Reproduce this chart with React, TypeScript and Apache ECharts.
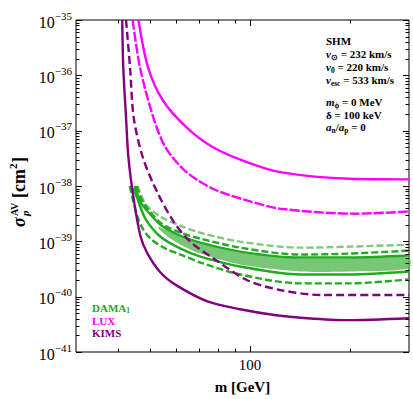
import React, { useEffect, useRef } from "react";
import * as echarts from "echarts";

const SERIF = '"Liberation Serif", "Times New Roman", serif';

// ---- data: [mass (GeV), sigma (cm^2)] ----
const kimsSolid: [number, number][] = [
  [41.3, 1e-35], [41.6, 1.38e-36], [42.4, 1.74e-37], [43.1, 3.31e-38], [44.7, 5.85e-39],
  [46.9, 1.21e-39], [49.2, 6.01e-40], [53.8, 2.74e-40], [60.1, 1.6e-40], [74.4, 8.24e-41],
  [93.3, 5.93e-41], [119.6, 4.62e-41], [148, 4.08e-41], [194.8, 3.76e-41], [300, 4.08e-41],
];
const kimsDashed: [number, number][] = [
  [42.4, 1e-35], [43.6, 1.38e-36], [44.7, 1.74e-37], [47.6, 3.31e-38], [52.6, 7.76e-39],
  [59.0, 2.24e-39], [66.2, 9.77e-40], [77.7, 4.9e-40], [97.7, 2.0e-40], [122.9, 1.32e-40],
  [165.6, 1.07e-40], [300, 1.07e-40],
];
const luxSolid: [number, number][] = [
  [46.2, 1e-35], [49.4, 1.38e-36], [54.8, 3.47e-37], [64.4, 1.15e-37], [77.4, 5.01e-38],
  [97.8, 2.69e-38], [122.9, 1.78e-38], [199, 1.35e-38], [300, 1.32e-38],
];
const luxDashed: [number, number][] = [
  [44.4, 1e-35], [46.7, 1.38e-36], [51.2, 1.74e-37], [55.7, 5.01e-38], [63.9, 1.86e-38],
  [77.5, 8.83e-39], [97.7, 5.5e-39], [122.9, 3.89e-39], [208.5, 3.16e-39], [300, 3.47e-39],
];
const damaLightDashed: [number, number][] = [
  [45.9, 1e-38], [48.5, 4.75e-39], [53.8, 2.77e-39], [61.8, 1.91e-39], [70.9, 1.43e-39],
  [93.3, 9.86e-40], [141.1, 7.69e-40], [199.1, 8.02e-40], [300, 8.71e-40],
];
const damaDashedUpper: [number, number][] = [
  [45.6, 1e-38], [46.9, 6.35e-39], [48.5, 4.38e-39], [53.8, 2.17e-39], [61.8, 1.43e-39],
  [70.9, 1.12e-39], [93.3, 7.69e-40], [141.1, 5.77e-40], [199.1, 6.01e-40], [300, 6.79e-40],
];
const damaSolidUpper: [number, number][] = [
  [45.0, 1e-38], [46.9, 5.16e-39], [48.5, 3.86e-39], [53.8, 2.0e-39], [61.8, 1.26e-39],
  [70.9, 9.46e-40], [93.3, 6.53e-40], [141.1, 5.09e-40], [199.1, 5.09e-40], [300, 5.53e-40],
];
const damaSolidLower: [number, number][] = [
  [44.7, 9.2e-39], [45.9, 5.85e-39], [48.5, 2.55e-39], [53.8, 1.21e-39], [61.8, 7.38e-40],
  [70.9, 5.31e-40], [93.3, 3.51e-40], [141.1, 2.52e-40], [199.1, 2.52e-40], [300, 2.85e-40],
];
const damaDashedLower: [number, number][] = [
  [43.5, 1e-38], [44.4, 5.85e-39], [45.6, 3.14e-39], [47.2, 1.84e-39], [50.2, 1.12e-39],
  [55.7, 7.38e-40], [61.8, 5.77e-40], [70.9, 4.14e-40], [93.3, 2.52e-40], [141.1, 1.74e-40],
  [199.1, 1.74e-40], [300, 2.05e-40],
];
const damaBandUpper: [number, number][] = [
  [53.1, 1.84e-39], [57.6, 1.49e-39], [61.8, 1.26e-39], [70.9, 9.46e-40], [93.3, 6.26e-40],
  [141.1, 4.89e-40], [199.1, 4.89e-40], [300, 5.09e-40],
];
const damaBandLower: [number, number][] = [
  [53.1, 1.69e-39], [57.6, 1.12e-39], [61.8, 8.71e-40], [70.9, 6.01e-40], [93.3, 3.81e-40],
  [141.1, 2.85e-40], [199.1, 2.85e-40], [300, 3.23e-40],
];

// ---- ticks / labels ----
const xTickMajor = [100];
const xTickMinor = [40, 50, 60, 70, 80, 90, 200];
const xLabelShown = [100];
const yTickMajor = [1e-41, 1e-40, 1e-39, 1e-38, 1e-37, 1e-36, 1e-35];
const yMinorMantissa = [2, 3, 4, 5, 6, 7, 8, 9];

const legendItems = [
  { text: "{n|DAMA}{s|1}", color: "#22aa22" },
  { text: "{n|LUX}", color: "#ff00ff" },
  { text: "{n|KIMS}", color: "#800080" },
];
const infoLines = [
  "{b|SHM}",
  "{i|v}{s|⊙}{b| = 232 km/s}",
  "{i|v}{s|0}{b| = 220 km/s}",
  "{i|v}{s|esc}{b| = 533 km/s}",
  "{i|m}{s|ϕ}{b| = 0 MeV}",
  "{b|δ = 100 keV}",
  "{i|a}{s|n}{b|/}{i|a}{s|p}{b| = 0}",
];
const infoY = [41, 54, 67, 80, 102, 115, 127];

// ECharts rounds axis values to 20 decimals, so the y axis works in units of 1e-41 cm^2.
const Y_UNIT = 1e-41;
const Y_UNIT_EXP = -41;
const toUnit = (d: [number, number][]) => d.map(([m, s]) => [m, s / Y_UNIT] as [number, number]);

const GREEN = "#22aa22";
const LIGHTGREEN = "#80c880";
const BAND = "#55b955";
const MAGENTA = "#ff00ff";
const PURPLE = "#800080";

function lineSeries(data: [number, number][], color: string, type: any, z: number) {
  return {
    type: "line",
    data: toUnit(data),
    symbol: "none",
    showSymbol: false,
    smooth: 0.3,
    silent: true,
    clip: true,
    z,
    lineStyle: { color, width: 2.4, type, cap: "butt" },
  };
}

function buildOption() {
  const tickData: number[][] = [];
  xTickMajor.forEach((v) => tickData.push([v, 1000, 0, 1]));
  xTickMinor.forEach((v) => tickData.push([v, 1000, 0, 0]));
  yTickMajor.forEach((v) => tickData.push([100, v / Y_UNIT, 1, 1]));
  yTickMajor.slice(0, -1).forEach((d) =>
    yMinorMantissa.forEach((m) => tickData.push([100, (d * m) / Y_UNIT, 1, 0]))
  );
  const bandUp = toUnit(damaBandUpper);
  const bandLo = toUnit(damaBandLower);

  const richSub = (color: string) => ({
    n: { fill: color, fontFamily: SERIF, fontWeight: "bold", fontSize: 11, lineHeight: 13, verticalAlign: "middle" },
    s: { fill: color, fontFamily: SERIF, fontWeight: "bold", fontSize: 7.5, lineHeight: 7, verticalAlign: "bottom" },
  });

  const infoRich = {
    b: { fill: "#000", fontFamily: SERIF, fontWeight: "bold", fontSize: 11, lineHeight: 14, verticalAlign: "middle" },
    i: { fill: "#000", fontFamily: SERIF, fontWeight: "bold", fontStyle: "italic", fontSize: 11, lineHeight: 14, verticalAlign: "middle" },
    s: { fill: "#000", fontFamily: SERIF, fontWeight: "bold", fontSize: 7.5, lineHeight: 7, verticalAlign: "bottom" },
  };

  const txt = (x: number, y: number, text: string, fontSize: number, extra: any = {}) => ({
    type: "text",
    x,
    y,
    style: {
      text,
      fill: "#000",
      fontFamily: SERIF,
      fontWeight: "bold",
      fontSize,
      align: "left",
      textAlign: "left",
      verticalAlign: "middle",
      textVerticalAlign: "middle",
      ...extra,
    },
  });

  return {
    animation: false,
    grid: { left: 76, top: 20, right: 4, bottom: 45, show: true, borderColor: "#000", borderWidth: 1 },
    xAxis: {
      type: "log",
      logBase: 10,
      min: 30,
      max: 300,
      axisLine: { show: false },
      axisTick: { show: false },
      splitLine: { show: false },
      axisLabel: {
        formatter: (v: number) =>
          xLabelShown.some((t) => Math.abs(t - v) < 1e-6 * t) ? String(Math.round(v)) : "",
        fontFamily: SERIF,
        fontSize: 15,
        color: "#000",
        margin: 5,
      },
      name: "m [GeV]",
      nameLocation: "middle",
      nameGap: 27,
      nameTextStyle: { fontFamily: SERIF, fontSize: 15, fontWeight: "bold", color: "#000" },
    },
    yAxis: {
      type: "log",
      logBase: 10,
      min: 1e-41 / Y_UNIT,
      max: 1e-35 / Y_UNIT,
      axisLine: { show: false },
      axisTick: { show: false },
      splitLine: { show: false },
      axisLabel: {
        margin: 4,
        formatter: (v: number) => `{b|10}{s|−${-(Math.round(Math.log10(v)) + Y_UNIT_EXP)}}`,
        rich: {
          b: { fontFamily: SERIF, fontSize: 16, color: "#000", lineHeight: 20, verticalAlign: "bottom" },
          s: { fontFamily: SERIF, fontSize: 11, color: "#000", lineHeight: 11, verticalAlign: "top" },
        },
      },
    },
    series: [
      {
        type: "custom",
        coordinateSystem: "cartesian2d",
        silent: true,
        z: 1,
        data: [bandUp[0]],
        renderItem: (_params: any, api: any) => {
          const pts = bandUp
            .map((p) => api.coord(p))
            .concat(bandLo.slice().reverse().map((p) => api.coord(p)));
          return {
            type: "polygon",
            shape: { points: pts, smooth: 0.25 },
            style: { fill: BAND, opacity: 0.8 },
          };
        },
      },
      lineSeries(damaLightDashed, LIGHTGREEN, [7, 3], 2),
      lineSeries(damaDashedUpper, GREEN, [7, 3], 2),
      lineSeries(damaSolidUpper, GREEN, "solid", 2),
      lineSeries(damaSolidLower, GREEN, "solid", 2),
      lineSeries(damaDashedLower, GREEN, [7, 3], 2),
      lineSeries(kimsSolid, PURPLE, "solid", 3),
      lineSeries(kimsDashed, PURPLE, [8, 4], 3),
      lineSeries(luxSolid, MAGENTA, "solid", 3),
      lineSeries(luxDashed, MAGENTA, [10, 2], 3),
      {
        type: "custom",
        coordinateSystem: "cartesian2d",
        silent: true,
        clip: false,
        z: 10,
        data: tickData,
        renderItem: (params: any, api: any) => {
          const cs = params.coordSys;
          const kind = api.value(2);
          const major = api.value(3);
          const p = api.coord([api.value(0), api.value(1)]);
          const st = { stroke: "#000", lineWidth: 1 };
          const len = major ? 6 : 3.5;
          if (kind === 0) {
            const x = Math.round(p[0]) + 0.5;
            return {
              type: "group",
              children: [
                { type: "line", shape: { x1: x, y1: cs.y + cs.height, x2: x, y2: cs.y + cs.height - len }, style: st },
                { type: "line", shape: { x1: x, y1: cs.y, x2: x, y2: cs.y + len }, style: st },
              ],
            };
          }
          const y = Math.round(p[1]) + 0.5;
          return {
            type: "group",
            children: [
              { type: "line", shape: { x1: cs.x, y1: y, x2: cs.x + len, y2: y }, style: st },
              { type: "line", shape: { x1: cs.x + cs.width, y1: y, x2: cs.x + cs.width - len, y2: y }, style: st },
            ],
          };
        },
      },
    ],
    graphic: [
      {
        type: "group",
        x: 19,
        y: 227,
        rotation: Math.PI / 2,
        children: [
          txt(0, 0, "σ", 18, { fontStyle: "italic" }),
          txt(11, -5, "AV", 10),
          txt(11, 6, "p", 11, { fontStyle: "italic" }),
          txt(29, 0, "[cm", 18),
          txt(58, -6, "2", 11),
          txt(64, 0, "]", 18),
        ],
      },
      ...legendItems.map((it, i) => ({
        type: "text",
        x: 92,
        y: 308 + i * 12.5,
        style: {
          text: it.text,
          rich: richSub(it.color),
          fill: it.color,
          align: "left",
          textAlign: "left",
          verticalAlign: "middle",
          textVerticalAlign: "middle",
        },
      })),
      ...infoLines.map((t, i) => ({
        type: "text",
        x: 326,
        y: infoY[i],
        style: {
          text: t,
          rich: infoRich,
          fill: "#000",
          align: "left",
          textAlign: "left",
          verticalAlign: "middle",
          textVerticalAlign: "middle",
        },
      })),
    ],
  };
}

export default function App() {
  const ref = useRef<HTMLDivElement>(null);
  useEffect(() => {
    if (!ref.current) return;
    const chart = echarts.init(ref.current, null, { renderer: "svg" });
    chart.setOption(buildOption() as any);
    return () => chart.dispose();
  }, []);
  return (
    <div
      ref={ref}
      style={{ position: "fixed", left: 0, top: 0, width: 413, height: 399, background: "#fff" }}
    />
  );
}
